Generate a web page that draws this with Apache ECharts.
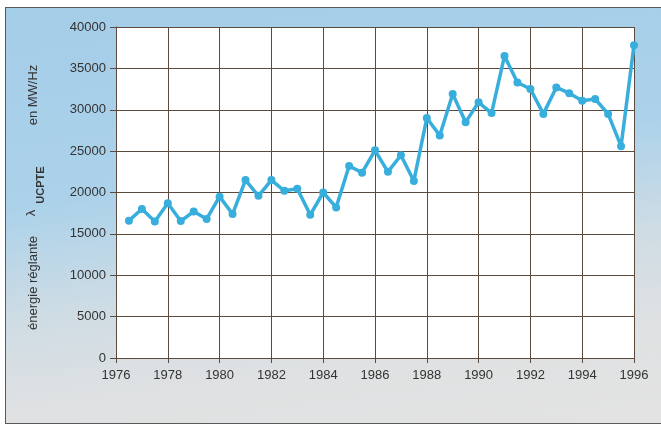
<!DOCTYPE html>
<html>
<head>
<meta charset="utf-8">
<script src="https://cdn.jsdelivr.net/npm/echarts@6/dist/echarts.min.js"></script>
<style>
  html, body { margin: 0; padding: 0; background: #fff; }
  .panel {
    position: absolute; left: 5px; top: 7px; width: 660px; height: 415px;
    border: 1px solid #5a5a5a; border-right: none;
    background: linear-gradient(172deg, #a4cde8 0%, #acd2ea 40%, #cfdce4 62%, #dfe1e2 80%, #e3e3e3 100%);
  }
  #chart { position: absolute; left: 0; top: 0; width: 661px; height: 428px; }
</style>
</head>
<body>
<div class="panel"></div>
<div id="chart"></div>
<script>
// half-year sampling points
const years = [
  1976.5, 1977, 1977.5, 1978, 1978.5, 1979, 1979.5, 1980, 1980.5, 1981,
  1981.5, 1982, 1982.5, 1983, 1983.5, 1984, 1984.5, 1985, 1985.5, 1986,
  1986.5, 1987, 1987.5, 1988, 1988.5, 1989, 1989.5, 1990, 1990.5, 1991,
  1991.5, 1992, 1992.5, 1993, 1993.5, 1994, 1994.5, 1995, 1995.5, 1996
]
// énergie réglante (MW/Hz)
const energie = [
  16600, 18000, 16500, 18700, 16550, 17700, 16800, 19500, 17400, 21500,
  19600, 21500, 20200, 20450, 17300, 20000, 18200, 23200, 22400, 25100,
  22500, 24500, 21400, 29000, 26900, 31900, 28500, 30900, 29600, 36500,
  33300, 32500, 29500, 32700, 32000, 31100, 31300, 29500, 25600, 37800
]

const gridColor = '#5b4a3e'
const lineColor = '#38aedd'
const font = '"Liberation Sans", Arial, sans-serif'

const chart = echarts.init(document.getElementById('chart'), null, { renderer: 'canvas' })

const option = {
  backgroundColor: 'transparent',
  animation: false,
  grid: { left: 116, right: 27, top: 27, bottom: 70, show: true, backgroundColor: '#fff', borderWidth: 0 },
  xAxis: {
    type: 'value',
    min: 1976,
    max: 1996,
    interval: 2,
    axisLine: { show: true, lineStyle: { color: gridColor, width: 1 } },
    axisTick: { show: true, length: 5, lineStyle: { color: gridColor } },
    axisLabel: { color: '#333', fontSize: 13, fontFamily: font, margin: 11, formatter: v => String(v) },
    splitLine: { show: true, lineStyle: { color: gridColor, width: 1 } }
  },
  yAxis: {
    type: 'value',
    min: 0,
    max: 40000,
    interval: 5000,
    axisLine: { show: true, lineStyle: { color: gridColor, width: 1 } },
    axisTick: { show: true, length: 6, lineStyle: { color: gridColor } },
    axisLabel: { color: '#333', fontSize: 13, fontFamily: font, margin: 10, formatter: v => String(v) },
    splitLine: { show: true, lineStyle: { color: gridColor, width: 1 } }
  },
  graphic: [
    {
      type: 'rect', left: 634, top: 27, z: 5,
      shape: { width: 1, height: 331 },
      style: { fill: gridColor }
    },
    {
      type: 'text', x: 33, y: 283, rotation: Math.PI / 2,
      style: { text: 'énergie réglante', fill: '#333', font: '13px ' + font, align: 'center', verticalAlign: 'middle' }
    },
    {
      type: 'text', x: 31, y: 213, rotation: Math.PI / 2,
      style: { text: 'λ', fill: '#333', font: '13px ' + font, align: 'center', verticalAlign: 'middle' }
    },
    {
      type: 'text', x: 41, y: 185, rotation: Math.PI / 2,
      style: { text: 'UCPTE', fill: '#333', font: 'bold 11px ' + font, align: 'center', verticalAlign: 'middle' }
    },
    {
      type: 'text', x: 33, y: 95, rotation: Math.PI / 2,
      style: { text: 'en MW/Hz', fill: '#333', font: '13px ' + font, align: 'center', verticalAlign: 'middle' }
    }
  ],
  series: [
    {
      type: 'line',
      data: years.map((y, i) => [y, energie[i]]),
      symbol: 'circle',
      symbolSize: 8,
      showSymbol: true,
      lineStyle: { color: lineColor, width: 3.5, join: 'round', cap: 'round' },
      itemStyle: { color: lineColor, borderWidth: 0 },
      z: 10
    }
  ]
}

chart.setOption(option)
</script>
</body>
</html>
